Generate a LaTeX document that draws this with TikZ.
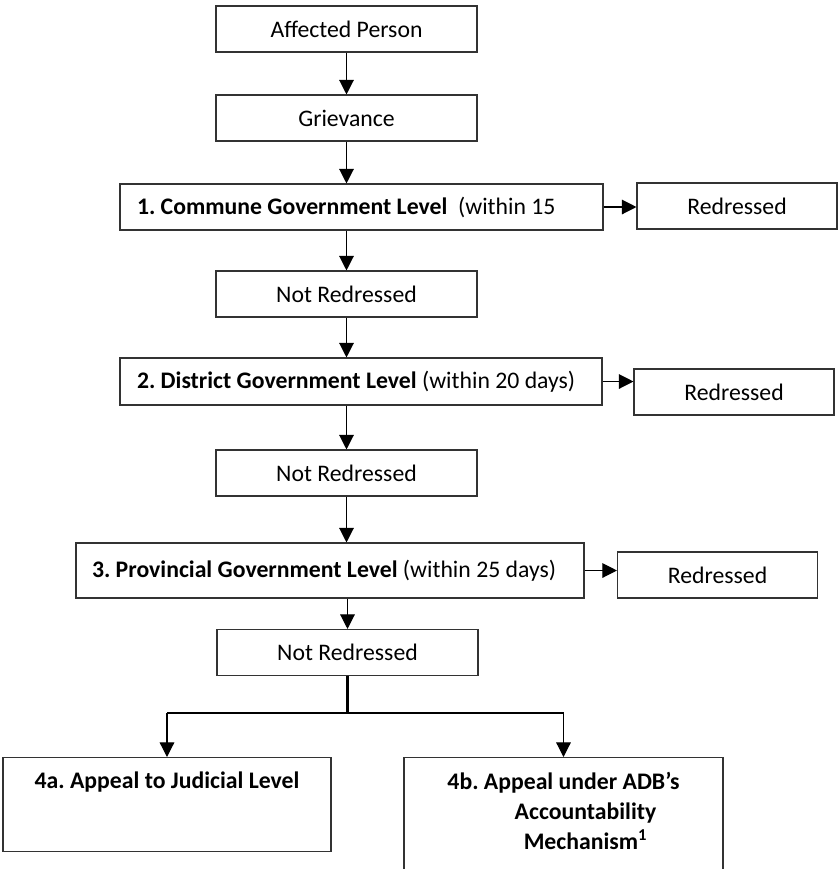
\documentclass[tikz,border=0pt]{standalone}
\usepackage{fontspec}
\setmainfont{Carlito}
\frenchspacing
\usetikzlibrary{arrows.meta,positioning}
\tikzset{
  stepbox/.style={draw=black!80, line width=0.8pt, minimum width=195.75pt, minimum height=34.5pt, inner sep=1pt, align=center, font=\fontsize{17.8}{21}\selectfont},
  redressbox/.style={stepbox, minimum width=150pt},
  levelbox/.style={stepbox, align=flush left, text width=336.75pt, inner xsep=12.75pt},
  appealbox/.style={stepbox, inner xsep=0pt, inner ysep=11pt, font=\bfseries\fontsize{17.8}{21.4}\selectfont},
  arrow/.style={-{Triangle[length=11pt,width=11pt]}, line width=0.9pt, draw=black},
  forkline/.style={line width=1.6pt, draw=black}
}
\begin{document}
\begin{tikzpicture}[x=0.75pt, y=-0.75pt]
  \useasboundingbox (0,0) rectangle (838,869);
  \clip (0,0) rectangle (838,869);

  % main column
  \node[stepbox] (affected) at (346.5,29) {Affected Person};
  \node[stepbox] (grievance) at (346.5,118) {Grievance};

  \node[levelbox] (commune) at (361.5,207) {\mbox{\textbf{1. Commune Government Level}\ \ (within 15}};
  \node[redressbox] (red1) at (737,206) {Redressed};
  \node[stepbox] (notred1) at (346.5,294) {Not Redressed};

  \node[levelbox, text width=336pt, minimum height=35.25pt] (district) at (361,381.5) {\mbox{\textbf{2. District Government Level} (within 20 days)}};
  \node[redressbox] (red2) at (734,392) {Redressed};
  \node[stepbox] (notred2) at (346.5,473) {Not Redressed};

  \node[levelbox, text width=357pt, inner xsep=12pt, minimum height=41.25pt] (provincial) at (330,570.5) {\mbox{\textbf{3. Provincial Government Level} (within 25 days)}};
  \node[redressbox] (red3) at (717.5,575) {Redressed};
  \node[stepbox] (notred3) at (347.5,652.5) {Not Redressed};

  % appeal level
  \coordinate (fork) at (347.5,713);
  \node[appealbox, anchor=north] (appeala) at (167,757) {\parbox[t][48.5pt][t]{246pt}{\centering 4a. Appeal to Judicial Level}};
  \node[appealbox, anchor=north] (appealb) at (563.5,757) {\parbox[t][100pt][t]{239.25pt}{\centering 4b. Appeal under ADB’s\\[1pt] \hspace*{33pt}Accountability\\[1pt] \hspace*{33pt}Mechanism\textsuperscript{1}}};

  \draw[arrow] (affected) -- (grievance);
  \draw[arrow] (grievance) -- (grievance |- commune.north);
  \draw[arrow] (commune.east) -- (commune.east -| red1.west);
  \draw[arrow] (notred1 |- commune.south) -- (notred1);
  \draw[arrow] (notred1) -- (notred1 |- district.north);
  \draw[arrow] (district.east) -- (district.east -| red2.west);
  \draw[arrow] (notred2 |- district.south) -- (notred2);
  \draw[arrow] (notred2) -- (notred2 |- provincial.north);
  \draw[arrow] (provincial.east) -- (provincial.east -| red3.west);
  \draw[arrow] (notred3 |- provincial.south) -- (notred3);
  \draw[forkline] (notred3) -- (fork);
  \draw[forkline] (fork -| appeala) -- (fork -| appealb);
  \draw[arrow] (fork -| appeala) -- (appeala);
  \draw[arrow] (fork -| appealb) -- (appealb);
\end{tikzpicture}
\end{document}
